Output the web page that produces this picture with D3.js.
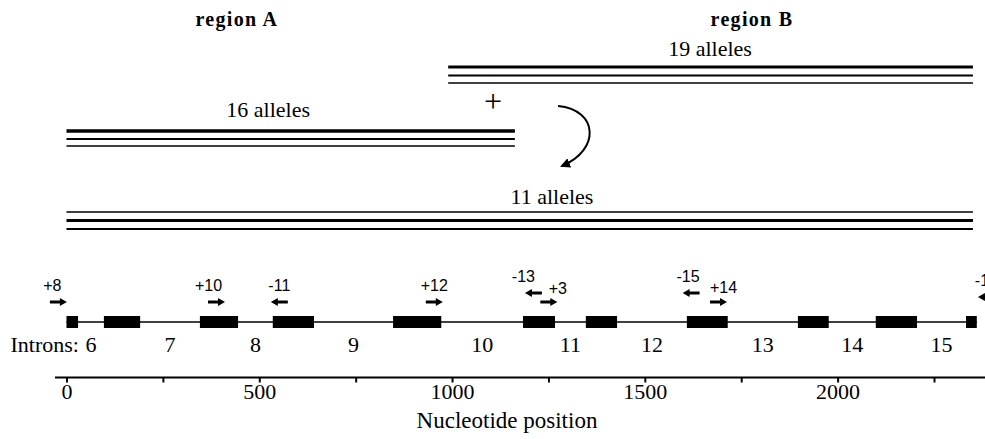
<!DOCTYPE html>
<html>
<head>
<meta charset="utf-8">
<script src="https://cdn.jsdelivr.net/npm/d3@7"></script>
<style>
  body { margin: 0; background: #fff; }
  svg { display: block; }
</style>
</head>
<body>
<script>
// gene map, positions in nucleotides
const exons = [[0, 30], [97, 191], [346, 445], [535, 642], [847, 972], [1184, 1267],
               [1347, 1428], [1609, 1715], [1897, 1977], [2099, 2206], [2333, 2361]]
const introns = [6, 7, 8, 9, 10, 11, 12, 13, 14, 15]

// primers: label, centre position, direction, tier (height above gene)
const primerLabels = ["+8", "+10", "-11", "+12", "-13", "+3", "-15", "+14", "-16"]
const primerPos = [-21, 389, 552, 954, 1211, 1251, 1620, 1691, 2386]
const primerDir = [1, 1, -1, 1, -1, 1, -1, 1, -1]
const primerTier = [0, 0, 0, 0, 2, 0, 2, 0, 1]

// allele groups
const groupLabels = ["19 alleles", "16 alleles", "11 alleles"]
const groupStart = [990, 0, 0]
const groupEnd = [2351, 1163, 2351]
const groupLabelPos = [1669, 523, 1259]

const regionNames = ["region A", "region B"]
const regionPos = [442, 1778]

const tickValues = [0, 250, 500, 750, 1000, 1250, 1500, 1750, 2000, 2250]

const width = 985, height = 439
const serif = "'Liberation Serif', 'Times New Roman', serif"
const sans = "'Liberation Sans', Arial, sans-serif"

const x = d3.scaleLinear().domain([0, 2250]).range([66.5, 934])

const svg = d3.select("body").append("svg")
    .attr("width", width)
    .attr("height", height)

// region titles
svg.append("g")
    .attr("font-family", serif)
    .attr("font-weight", "bold")
    .attr("font-size", 20)
    .attr("letter-spacing", 1.3)
    .attr("text-anchor", "middle")
  .selectAll("text")
  .data(regionNames)
  .join("text")
    .attr("x", (d, i) => x(regionPos[i]))
    .attr("y", 26)
    .text(d => d)

// allele groups: three lines each
const groupY = [67, 131, 212]
const lineStyles = [
  [{dy: 0, w: 3}, {dy: 8.5, w: 2}, {dy: 16, w: 1.5}],
  [{dy: 0, w: 3.5}, {dy: 8, w: 2}, {dy: 15, w: 1.5}],
  [{dy: 0, w: 1.5}, {dy: 8.5, w: 3}, {dy: 17, w: 2}]
]
const labelY = [56, 117, 204]

groupLabels.forEach((lab, i) => {
  const g = svg.append("g")
  g.selectAll("line")
    .data(lineStyles[i])
    .join("line")
      .attr("x1", x(groupStart[i]))
      .attr("x2", x(groupEnd[i]))
      .attr("y1", d => groupY[i] + d.dy)
      .attr("y2", d => groupY[i] + d.dy)
      .attr("stroke", "#000")
      .attr("stroke-width", d => d.w)
  g.append("text")
      .attr("x", x(groupLabelPos[i]))
      .attr("y", labelY[i])
      .attr("text-anchor", "middle")
      .attr("font-family", serif)
      .attr("font-size", 22)
      .text(lab)
})

// "+" and recombination arrow
svg.append("text")
    .attr("x", x(1106))
    .attr("y", 112)
    .attr("text-anchor", "middle")
    .attr("font-family", serif)
    .attr("font-size", 32)
    .text("+")

svg.append("defs").append("marker")
    .attr("id", "head")
    .attr("viewBox", "0 0 10 10")
    .attr("refX", 8).attr("refY", 5)
    .attr("markerWidth", 5).attr("markerHeight", 5)
    .attr("orient", "auto")
  .append("path")
    .attr("d", "M0,0 L10,5 L0,10 Z")
    .attr("fill", "#000")

const curve = d3.path()
curve.moveTo(x(1275), 106)
curve.bezierCurveTo(x(1380), 110, x(1385), 150, x(1285), 166)
svg.append("path")
    .attr("d", curve.toString())
    .attr("fill", "none")
    .attr("stroke", "#000")
    .attr("stroke-width", 2)
    .attr("marker-end", "url(#head)")

// gene structure
const geneY = 322
svg.append("line")
    .attr("x1", x(0)).attr("x2", x(exons[exons.length - 1][1]))
    .attr("y1", geneY).attr("y2", geneY)
    .attr("stroke", "#000")
    .attr("stroke-width", 1.5)

svg.append("g")
  .selectAll("rect")
  .data(exons)
  .join("rect")
    .attr("x", d => x(d[0]))
    .attr("width", d => x(d[1]) - x(d[0]))
    .attr("y", geneY - 6)
    .attr("height", 12)
    .attr("fill", "#000")

// intron numbers, placed between exons
const intronText = svg.append("g")
    .attr("font-family", serif)
    .attr("font-size", 22)
    .attr("text-anchor", "middle")
intronText.selectAll("text")
  .data(introns)
  .join("text")
    .attr("x", (d, i) => x((exons[i][1] + exons[i + 1][0]) / 2))
    .attr("y", 352)
    .text(d => d)
intronText.append("text")
    .attr("x", 79)
    .attr("y", 352)
    .attr("text-anchor", "end")
    .text("Introns:")

// primers
const tierY = [302, 297, 293]
// small label nudges so neighbouring labels do not collide
const labelNudge = {"+8": [-6, 0], "+10": [-8, 0], "-13": [-10, 0], "+3": [9, 3], "-15": [-3, 0], "+14": [5, 2]}
const primers = svg.append("g")
primerLabels.forEach((lab, i) => {
  const cx = x(primerPos[i]), cy = tierY[primerTier[i]], dir = primerDir[i]
  const tail = cx - dir * 8.5, tip = cx + dir * 8.5
  const nudge = labelNudge[lab] || [0, 0]
  primers.append("line")
      .attr("x1", tail).attr("x2", tip - dir * 5)
      .attr("y1", cy).attr("y2", cy)
      .attr("stroke", "#000")
      .attr("stroke-width", 3)
  primers.append("path")
      .attr("d", `M${tip},${cy} L${tip - dir * 7},${cy - 4} L${tip - dir * 7},${cy + 4} Z`)
      .attr("fill", "#000")
  primers.append("text")
      .attr("x", cx + nudge[0])
      .attr("y", cy - 11 + nudge[1])
      .attr("text-anchor", "middle")
      .attr("font-family", sans)
      .attr("font-size", 16)
      .text(lab)
})

// axis
const axisY = 377.5
const axis = svg.append("g")
    .attr("transform", `translate(0,${axisY})`)
    .call(d3.axisBottom(x).tickValues(tickValues).tickSize(5).tickFormat(d => d % 500 === 0 ? d : ""))
axis.select(".domain")
    .attr("d", `M55,0H${width}`)
    .attr("stroke-width", 2)
axis.selectAll(".tick line").attr("stroke-width", 2)
axis.selectAll(".tick text")
    .attr("font-family", serif)
    .attr("font-size", 22)
    .attr("fill", "#000")
    .attr("y", 21.5)
    .attr("dy", 0)

svg.append("text")
    .attr("x", 507)
    .attr("y", 428)
    .attr("text-anchor", "middle")
    .attr("font-family", serif)
    .attr("font-size", 23)
    .text("Nucleotide position")
</script>
</body>
</html>
